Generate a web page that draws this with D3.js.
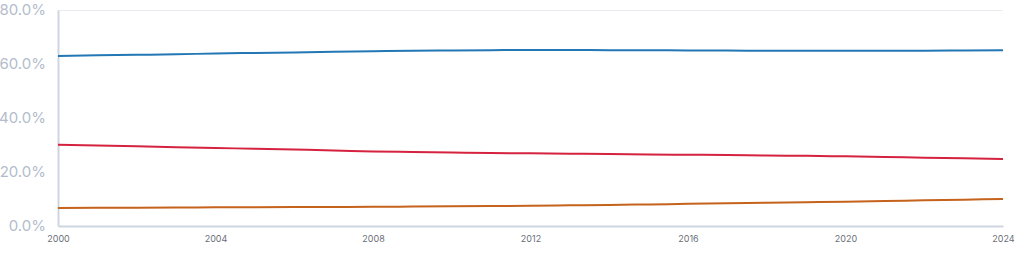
<!DOCTYPE html>
<html><head><meta charset="utf-8">
<script src="https://cdn.jsdelivr.net/npm/d3@7/dist/d3.min.js"></script>
<style>
html,body{margin:0;padding:0;background:#fff;}
svg{display:block;}
</style></head>
<body><svg id="c" width="1024" height="273"></svg>
<script>
const years = [2000,2001,2002,2003,2004,2005,2006,2007,2008,2009,2010,2011,2012,2013,2014,2015,2016,2017,2018,2019,2020,2021,2022,2023,2024];
const working = [63.0,63.2,63.4,63.6,63.9,64.1,64.3,64.5,64.7,64.9,65.0,65.1,65.2,65.2,65.1,65.1,65.0,65.0,64.9,64.9,64.9,64.9,64.9,65.0,65.1];
const young = [30.1,29.8,29.5,29.2,28.9,28.6,28.3,28.0,27.6,27.4,27.2,27.0,26.9,26.8,26.7,26.5,26.4,26.3,26.1,26.0,25.8,25.6,25.3,25.1,24.8];
const elderly = [6.7,6.75,6.8,6.85,6.9,6.95,7.0,7.05,7.1,7.2,7.3,7.4,7.5,7.65,7.8,8.0,8.2,8.4,8.6,8.8,9.0,9.25,9.5,9.75,10.0];
const yTicks = [0,20,40,60,80];
const xTicks = [2000,2004,2008,2012,2016,2020,2024];
const seriesColors = ["#2377b5","#d5233f","#c5621c"];

const svg = d3.select("#c");
const m = {l:58, r:1003, t:10, b:226};
const x = d3.scaleLinear().domain([2000,2024]).range([m.l, m.r]);
const y = d3.scaleLinear().domain([0,80]).range([m.b, m.t]);

// top gridline
svg.append("line").attr("x1",m.l).attr("x2",m.r).attr("y1",y(80)+0.5).attr("y2",y(80)+0.5)
  .attr("stroke","#e9ecf1").attr("stroke-width",1);

// y axis
const ya = svg.append("g").attr("transform",`translate(${m.l},0)`)
  .call(d3.axisLeft(y).tickValues(yTicks).tickFormat(d=>d.toFixed(1)+"%").tickSize(0).tickPadding(12));
ya.select(".domain").attr("stroke","#cfd5e0").attr("stroke-width",2);
ya.selectAll("text").attr("fill","#b3bccb").style("font-family","Inter, 'Open Sans', sans-serif").style("font-size","15px");

// x axis
const xa = svg.append("g").attr("transform",`translate(0,${m.b})`)
  .call(d3.axisBottom(x).tickValues(xTicks).tickFormat(d3.format("d")).tickSize(0).tickPadding(10));
xa.select(".domain").attr("stroke","#cfd5e0").attr("stroke-width",2);
xa.selectAll("text").attr("fill","#6b6f78").style("font-family","Inter, 'Open Sans', sans-serif").style("font-size","9px");

const series = [working, young, elderly];
const line = d3.line().x((d,i)=>x(years[i])).y(d=>y(d)).curve(d3.curveMonotoneX);
series.forEach((s,k)=>{
  svg.append("path").datum(s).attr("d",line).attr("fill","none")
    .attr("stroke",seriesColors[k]).attr("stroke-width",2);
});
</script></body></html>
